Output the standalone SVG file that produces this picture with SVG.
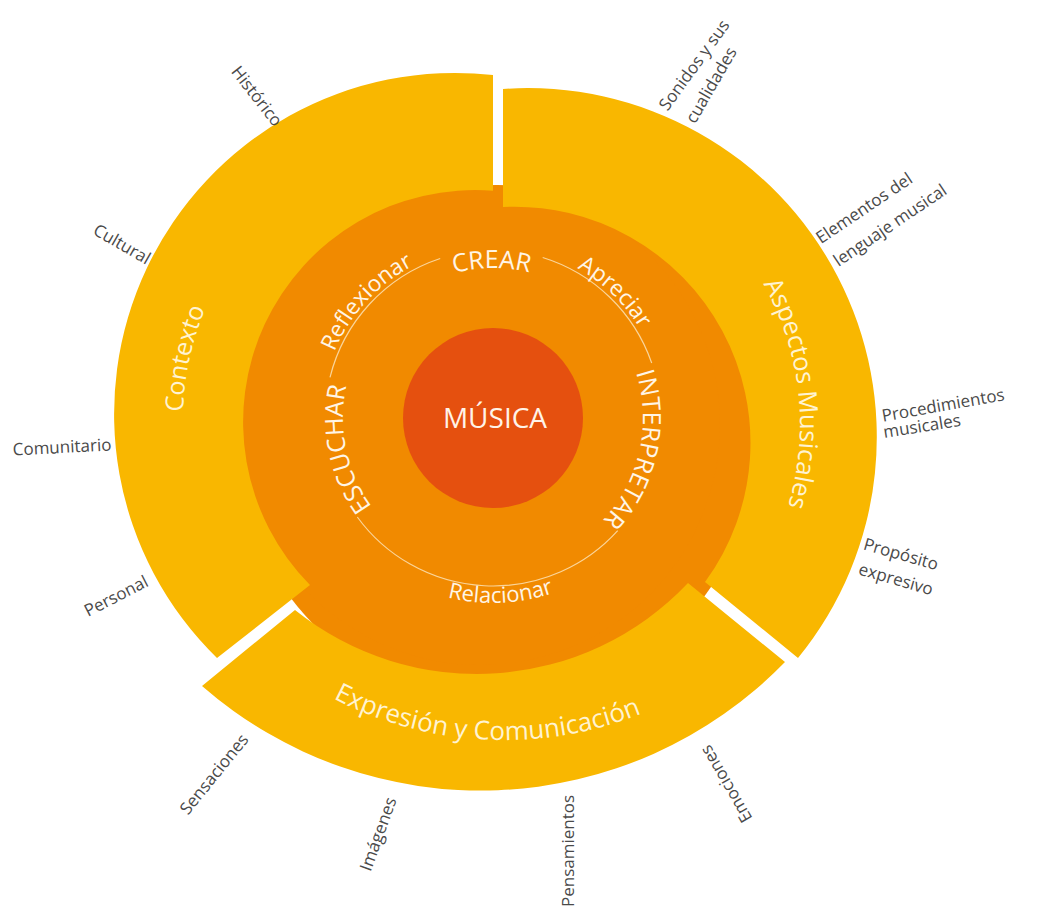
<svg xmlns="http://www.w3.org/2000/svg" width="1045" height="909" viewBox="0 0 1045 909">
<defs>
<style>
.seg{fill:#F9B700}
.core{fill:#F18A00}
.center{fill:#E5500F}
.ring{fill:none;stroke:#FBE2B5;stroke-width:1.2;opacity:0.85}
.in{font-family:"Open Sans","Noto Sans",sans-serif;fill:#FFF5E6}
.caps{font-size:25px}
.low{font-size:22.5px}
.segt{font-family:"Open Sans","Noto Sans",sans-serif;fill:#FFF3D2;font-size:25px}
.lab{font-family:"Open Sans","Noto Sans",sans-serif;fill:#4A4A4A;font-size:17px}
</style>
<path id="pEsc" d="M446.6,560.7 A150,150 0 0 1 392.6,306.5"/>
<path id="pCrear" d="M362.4,344.1 A150,150 0 0 1 622.2,341.9"/>
<path id="pInt" d="M594.7,307.8 A150,150 0 0 1 537.6,561.2"/>
<path id="pRef" d="M329.0,469.7 A172,172 0 0 1 530.2,250.1"/>
<path id="pApr" d="M445.6,252.7 A172,172 0 0 1 659.9,459.6"/>
<path id="pRel" d="M337.0,517.4 A185,185 0 0 0 657.1,503.4"/>
<path id="pCon" d="M277.2,632.6 A287,287 0 0 1 382.3,146.7"/>
<path id="pAsp" d="M629.5,163.0 A285,285 0 0 1 683.7,653.7"/>
<path id="pExp" d="M174.0,538.6 A371,371 0 0 0 815.9,570.0"/>
</defs>
<rect width="1045" height="909" fill="#FFFFFF"/>

<g id="core-disc">
<circle class="core" cx="497" cy="443" r="258"/>
<circle class="core" cx="480" cy="425" r="240"/>
</g>

<g id="contexto">
<path class="seg" d="M493,75 A341,341 0 0 0 217,658 L310,585 A232,232 0 0 1 493,190.7 Z"/>
<text class="segt"><textPath href="#pCon" startOffset="50%" text-anchor="middle">Contexto</textPath></text>
</g>

<g id="aspectos">
<path class="seg" d="M503,89 A349,349 0 0 1 798,658 L705,582 A236,236 0 0 0 503,207 Z"/>
<text class="segt" style="font-size:25.5px"><textPath href="#pAsp" startOffset="50%" text-anchor="middle">Aspectos Musicales</textPath></text>
</g>

<g id="expresion">
<path class="seg" d="M785,662 A424,424 0 0 1 202,686 L295,610 A290.6,290.6 0 0 0 688,583 Z"/>
<text class="segt" style="font-size:26px"><textPath href="#pExp" startOffset="50%" text-anchor="middle">Expresión y Comunicación</textPath></text>
</g>

<g id="connectors">
<path class="ring" d="M617.7,530.6 A168,168 0 0 1 357.3,517.0"/>
<path class="ring" d="M330.0,377.4 A168,168 0 0 1 440.2,258.5"/>
<path class="ring" d="M542.7,257.5 A168,168 0 0 1 651.7,363.0"/>
</g>

<g id="escuchar"><text class="in caps"><textPath href="#pEsc" startOffset="50%" text-anchor="middle">ESCUCHAR</textPath></text></g>
<g id="crear"><text class="in caps"><textPath href="#pCrear" startOffset="50%" text-anchor="middle">CREAR</textPath></text></g>
<g id="interpretar"><text class="in caps"><textPath href="#pInt" startOffset="50%" text-anchor="middle">INTERPRETAR</textPath></text></g>
<g id="reflexionar"><text class="in low"><textPath href="#pRef" startOffset="50%" text-anchor="middle">Reflexionar</textPath></text></g>
<g id="apreciar"><text class="in low"><textPath href="#pApr" startOffset="50%" text-anchor="middle">Apreciar</textPath></text></g>
<g id="relacionar"><text class="in low" style="font-size:22px"><textPath href="#pRel" startOffset="50%" text-anchor="middle">Relacionar</textPath></text></g>

<g id="musica">
<circle class="center" cx="493" cy="418" r="90"/>
<text x="495" y="428" text-anchor="middle" style="font-family:'Open Sans','Noto Sans',sans-serif;font-size:28px;fill:#FFF3E8">MÚSICA</text>
</g>

<g id="labels">
<text class="lab" text-anchor="middle" transform="translate(257,96) rotate(52)" y="6">Histórico</text>
<text class="lab" text-anchor="middle" transform="translate(122,244) rotate(30)" y="6">Cultural</text>
<text class="lab" text-anchor="middle" transform="translate(62,447) rotate(-3)" y="6">Comunitario</text>
<text class="lab" text-anchor="middle" transform="translate(116,596) rotate(-27)" y="6">Personal</text>
<text class="lab" text-anchor="middle" transform="translate(214,774) rotate(-51)" y="6">Sensaciones</text>
<text class="lab" text-anchor="middle" transform="translate(378,834) rotate(-70)" y="6">Imágenes</text>
<text class="lab" text-anchor="middle" transform="translate(568,851) rotate(-90)" y="6">Pensamientos</text>
<text class="lab" text-anchor="middle" transform="translate(726,784) rotate(-120)" y="6">Emociones</text>
<text class="lab" text-anchor="middle" transform="translate(694,65) rotate(-54)" y="6">Sonidos y sus</text>
<text class="lab" text-anchor="middle" transform="translate(711,85) rotate(-60)" y="6">cualidades</text>
<text class="lab" text-anchor="middle" transform="translate(864,208) rotate(-34)" y="6">Elementos del</text>
<text class="lab" text-anchor="middle" transform="translate(890,225) rotate(-34)" y="6">lenguaje musical</text>
<text class="lab" text-anchor="middle" transform="translate(943,405) rotate(-10)" y="6">Procedimientos</text>
<text class="lab" text-anchor="middle" transform="translate(922,426) rotate(-9)" y="6">musicales</text>
<text class="lab" text-anchor="middle" transform="translate(901,554) rotate(16)" y="6">Propósito</text>
<text class="lab" text-anchor="middle" transform="translate(896,579) rotate(16)" y="6">expresivo</text>
</g>
</svg>
